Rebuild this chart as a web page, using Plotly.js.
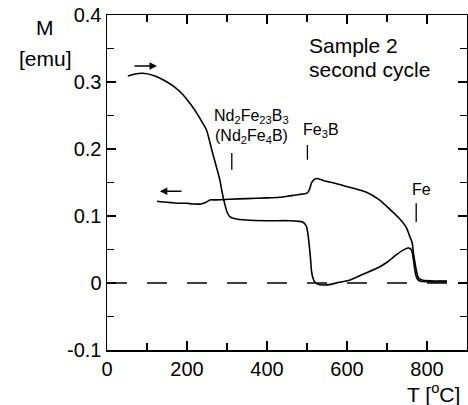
<!DOCTYPE html>
<html>
<head>
<meta charset="utf-8">
<script src="https://cdn.plot.ly/plotly-3.0.1.min.js"></script>
<style>
html,body{margin:0;padding:0;background:#fff;}
#chart{width:468px;height:405px;}
</style>
</head>
<body>
<div id="chart"></div>
<script>
// Heating curve (arrow to the right)
var heatT = [52,70,90,120,150,170,190,210,224,240,249,264,275,282,288,294,300,307,320,349,400,456,480,489,495,499,503,506,509,511,515,519,528,539,560,580,606,640,681,700,723,740,750,757,762,766,769,772,776,782,800,830,850];
var heatM = [0.309,0.312,0.313,0.309,0.300,0.292,0.281,0.266,0.254,0.238,0.228,0.194,0.170,0.154,0.135,0.119,0.106,0.099,0.096,0.094,0.093,0.093,0.092,0.091,0.088,0.084,0.070,0.054,0.035,0.019,0.007,0.002,-0.002,-0.003,-0.002,0.001,0.004,0.013,0.024,0.031,0.042,0.049,0.052,0.052,0.048,0.035,0.022,0.012,0.006,0.003,0.002,0.002,0.002];
// Cooling curve (arrow to the left)
var coolT = [850,820,790,782,777,773,770,766,763,758,748,730,723,700,681,650,606,570,540,525,519,514,511,507,503,499,480,456,431,400,350,307,270,257,249,235,215,200,182,160,140,125];
var coolM = [0.003,0.003,0.004,0.006,0.010,0.020,0.030,0.045,0.060,0.068,0.083,0.097,0.101,0.114,0.124,0.135,0.143,0.149,0.153,0.156,0.155,0.152,0.149,0.141,0.136,0.134,0.132,0.130,0.128,0.127,0.126,0.125,0.124,0.124,0.121,0.118,0.118,0.119,0.119,0.120,0.121,0.122];
// Zero reference line
var zeroT = [0, 900];
var zeroM = [0, 0];
// Axis ticks
var xTickVals = [0,200,400,600,800];
var xTickText = ['0','200','400','600','800'];
var yTickVals = [-0.1,0,0.1,0.2,0.3,0.4];
var yTickText = ['-0.1','0','0.1','0.2','0.3','0.4'];
// Phase labels and marker ticks
var phaseLabels = ['Nd<sub>2</sub>Fe<sub>23</sub>B<sub>3</sub>','(Nd<sub>2</sub>Fe<sub>4</sub>B)','Fe<sub>3</sub>B','Fe'];
var phaseLabelT = [362,362,536,786];
var phaseLabelM = [0.249,0.219,0.228,0.139];
var markT = [312,501,773];
var markM0 = [0.169,0.184,0.091];
var markM1 = [0.194,0.206,0.119];

var FONT = 'Liberation Sans, Arial, Helvetica, sans-serif';

var traces = [
  {x: zeroT, y: zeroM, mode:'lines', line:{color:'#000', width:1.3, dash:'20px,20px'}, hoverinfo:'skip'},
  {x: heatT, y: heatM, mode:'lines', line:{color:'#000', width:1.6, shape:'spline', smoothing:0.6}},
  {x: coolT, y: coolM, mode:'lines', line:{color:'#000', width:1.6, shape:'spline', smoothing:0.6}}
];

var annotations = [];
for (var i=0;i<phaseLabels.length;i++){
  annotations.push({x:phaseLabelT[i], y:phaseLabelM[i], xref:'x', yref:'y', xanchor:'center', yanchor:'middle', text:phaseLabels[i], showarrow:false, font:{family:FONT,size:16,color:'#000'}});
}
annotations.push({x:500, y:0.354, xref:'x', yref:'y', xanchor:'left', yanchor:'middle', text:'Sample 2', showarrow:false, font:{family:FONT,size:21,color:'#000'}});
annotations.push({x:500, y:0.318, xref:'x', yref:'y', xanchor:'left', yanchor:'middle', text:'second cycle', showarrow:false, font:{family:FONT,size:21,color:'#000'}});
// direction arrows
annotations.push({x:125, y:0.324, ax:65, ay:0.324, xref:'x', yref:'y', axref:'x', ayref:'y', text:'', showarrow:true, arrowhead:2, arrowsize:1, arrowwidth:1.5, arrowcolor:'#000'});
annotations.push({x:132, y:0.137, ax:190, ay:0.137, xref:'x', yref:'y', axref:'x', ayref:'y', text:'', showarrow:true, arrowhead:2, arrowsize:1, arrowwidth:1.5, arrowcolor:'#000'});
// axis titles
annotations.push({x:-0.172, y:0.964, xref:'paper', yref:'paper', xanchor:'center', yanchor:'middle', text:'M', showarrow:false, font:{family:FONT,size:21,color:'#000'}});
annotations.push({x:-0.172, y:0.869, xref:'paper', yref:'paper', xanchor:'center', yanchor:'middle', text:'[emu]', showarrow:false, font:{family:FONT,size:21,color:'#000'}});
annotations.push({x:0.906, y:-0.128, xref:'paper', yref:'paper', xanchor:'center', yanchor:'middle', text:'T [<sup>o</sup>C]', showarrow:false, font:{family:FONT,size:21,color:'#000'}});

var shapes = [];
for (var j=0;j<markT.length;j++){
  shapes.push({type:'line', xref:'x', yref:'y', x0:markT[j], x1:markT[j], y0:markM0[j], y1:markM1[j], line:{color:'#000', width:1.3}});
}

var axisCommon = {
  showline:true, linecolor:'#000', linewidth:1.5, mirror:'ticks',
  ticks:'inside', ticklen:9, tickwidth:1.3, tickcolor:'#000',
  showgrid:false, zeroline:false,
  tickfont:{family:FONT, size:20, color:'#000'}
};

var layout = {
  width:468, height:405,
  margin:{l:107, r:1, t:15, b:55},
  paper_bgcolor:'#fff', plot_bgcolor:'#fff',
  showlegend:false,
  xaxis: Object.assign({}, axisCommon, {
    range:[0,900], tickmode:'array', tickvals:xTickVals, ticktext:xTickText,
    minor:{tickmode:'linear', tick0:0, dtick:100, ticks:'inside', ticklen:7, tickwidth:1.2, tickcolor:'#000'}
  }),
  yaxis: Object.assign({}, axisCommon, {
    range:[-0.1,0.4], tickmode:'array', tickvals:yTickVals, ticktext:yTickText,
    minor:{tickmode:'linear', tick0:0, dtick:0.05, ticks:'inside', ticklen:7, tickwidth:1.2, tickcolor:'#000'}
  }),
  annotations: annotations,
  shapes: shapes
};

Plotly.newPlot('chart', traces, layout, {staticPlot:true, displayModeBar:false});
</script>
</body>
</html>
